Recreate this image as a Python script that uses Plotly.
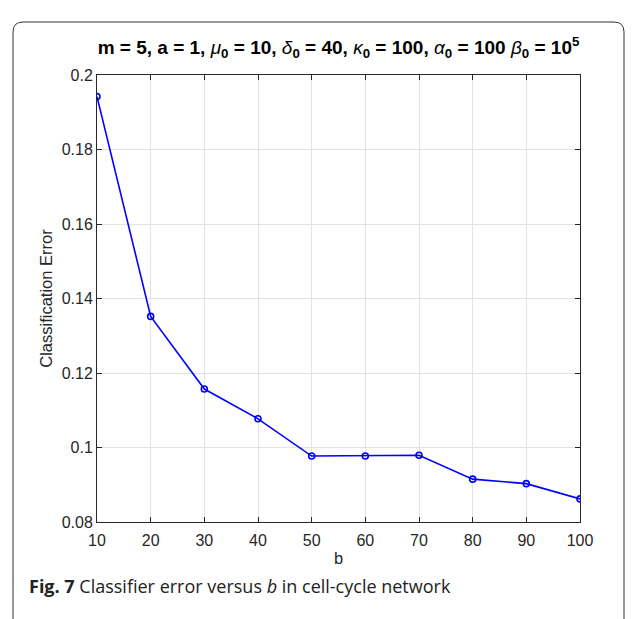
import plotly.graph_objects as go

b_values = [10, 20, 30, 40, 50, 60, 70, 80, 90, 100]
errors = [0.1942, 0.1352, 0.1157, 0.1077, 0.0977, 0.0977, 0.0979, 0.0915, 0.0903, 0.0862]
x_ticks = [10, 20, 30, 40, 50, 60, 70, 80, 90, 100]
y_ticks = [0.08, 0.1, 0.12, 0.14, 0.16, 0.18, 0.2]
y_tick_labels = ["0.08", "0.1", "0.12", "0.14", "0.16", "0.18", "0.2"]

W, H = 637, 619
L, R, T, B = 97, 580, 75, 522

fig = go.Figure()
fig.add_trace(go.Scatter(
    x=b_values, y=errors, mode="lines+markers",
    line=dict(color="#0000ff", width=1.6),
    marker=dict(symbol="circle-open", size=6, color="#0000ff", line=dict(width=1.6)),
    showlegend=False, hoverinfo="x+y"
))

def px(x):
    return (x - L) / (R - L)

def py(y):
    return (B - y) / (B - T)

# rounded border box in pixel coordinates
x0, x1, y0, y1, r = 13, 624, 22, 640, 10
path = (f"M {px(x0)},{py(y0 + r)} "
        f"Q {px(x0)},{py(y0)} {px(x0 + r)},{py(y0)} "
        f"L {px(x1 - r)},{py(y0)} "
        f"Q {px(x1)},{py(y0)} {px(x1)},{py(y0 + r)} "
        f"L {px(x1)},{py(y1)} L {px(x0)},{py(y1)} Z")
fig.add_shape(type="path", path=path, xref="paper", yref="paper",
              line=dict(color="#333333", width=1), layer="below")

title_text = ("<b>m = 5, a = 1, </b><i>μ</i><sub><b>0</b></sub><b> = 10, </b>"
              "<i>δ</i><sub><b>0</b></sub><b> = 40, </b>"
              "<i>κ</i><sub><b>0</b></sub><b> = 100, </b>"
              "<i>α</i><sub><b>0</b></sub><b> = 100 </b>"
              "<i>β</i><sub><b>0</b></sub><b> = 10</b><sup><b>5</b></sup>")

fig.update_layout(
    width=W, height=H,
    margin=dict(l=L, r=W - R, t=T, b=H - B),
    paper_bgcolor="white", plot_bgcolor="white",
    font=dict(family="Liberation Sans, Arial, sans-serif", size=16, color="#262626"),
    title=dict(text=title_text, x=0.5, xref="paper", xanchor="center",
               y=1 - 47 / H, yref="container", yanchor="middle",
               font=dict(size=19, color="#000000")),
    xaxis=dict(range=[10, 100], tickvals=x_ticks, ticks="inside", ticklen=5,
               ticklabelstandoff=4,
               showgrid=True, gridcolor="#e3e3e3", gridwidth=1,
               showline=True, linecolor="#262626", linewidth=1, mirror="ticks",
               tickcolor="#262626", zeroline=False,
               title=dict(text="b", standoff=4, font=dict(size=16.5))),
    yaxis=dict(range=[0.08, 0.2], tickvals=y_ticks, ticktext=y_tick_labels,
               ticks="inside", ticklen=5,
               showgrid=True, gridcolor="#e3e3e3", gridwidth=1,
               showline=True, linecolor="#262626", linewidth=1, mirror="ticks",
               tickcolor="#262626", zeroline=False,
               title=dict(text="Classification Error", standoff=4, font=dict(size=16.5))),
)

fig.add_annotation(
    text="<b>Fig. 7</b> Classifier error versus <i>b</i> in cell-cycle network",
    xref="paper", yref="paper", x=px(27), y=py(586),
    xanchor="left", yanchor="middle", showarrow=False,
    font=dict(family="Open Sans, sans-serif", size=18, color="#222222"))

fig.write_html("out.html", config={"displayModeBar": False},
               post_script="document.body.style.margin='0';")
